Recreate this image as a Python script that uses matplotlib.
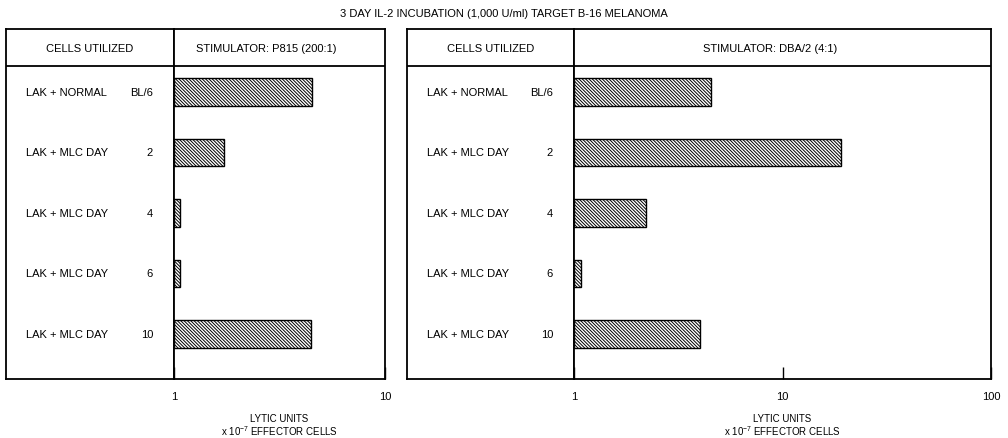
import numpy as np
import matplotlib.pyplot as plt
from matplotlib.ticker import FixedLocator, FixedFormatter, NullLocator

plt.rcParams['font.family'] = ['Liberation Sans', 'DejaVu Sans']
plt.rcParams['mathtext.fontset'] = 'custom'
plt.rcParams['mathtext.rm'] = 'Liberation Sans'
plt.rcParams['hatch.linewidth'] = 0.7

# cells used in each row
cell_names = ['LAK + NORMAL', 'LAK + MLC DAY', 'LAK + MLC DAY', 'LAK + MLC DAY', 'LAK + MLC DAY']
cell_tags = ['BL/6', '2', '4', '6', '10']

# lytic units x 10^-7 effector cells
p815_values = [4.5, 1.73, 1.07, 1.07, 4.46]
dba2_values = [4.56, 19.0, 2.22, 1.08, 4.03]

p815_title = 'STIMULATOR: P815 (200:1)'
dba2_title = 'STIMULATOR: DBA/2 (4:1)'
p815_ticks = [1, 10]
dba2_ticks = [1, 10, 100]

title = '3 DAY IL-2 INCUBATION (1,000 U/ml) TARGET B-16 MELANOMA'
xlabel = 'LYTIC UNITS\nx 10$^{\\mathrm{-7}}$ EFFECTOR CELLS'

W, H = 1008, 439
fig = plt.figure(figsize=(W / 100, H / 100), dpi=100)

y_top, y_bot = 30, 380
ylim = (4.744, -1.041)
header_y = -0.43
header_text_y = -0.735
lw = 1.3
fs = 8


def px_axes(x0, x1):
    return fig.add_axes([x0 / W, (H - y_bot) / H, (x1 - x0) / W, (y_bot - y_top) / H])


def panel(x0, xmid, x1, values, stim, ticks, ha_frac):
    lab = px_axes(x0, xmid)
    bar = px_axes(xmid, x1)
    rows = np.arange(len(values))

    # left column with cell names
    lab.set_xlim(0, 1)
    lab.set_ylim(*ylim)
    lab.set_xticks([])
    lab.set_yticks([])
    lab.axhline(header_y, color='black', lw=lw)
    lab.text(0.5, header_text_y, 'CELLS UTILIZED', ha='center', va='center', fontsize=fs)
    col_w = xmid - x0
    for r, name, tag in zip(rows, cell_names, cell_tags):
        lab.text(20 / col_w, r, name, ha='left', va='center', fontsize=fs)
        lab.text(1 - 21 / col_w, r, tag, ha='right', va='center', fontsize=fs)

    # bars on a log scale starting at 1
    bar.set_xscale('log')
    bar.set_xlim(ticks[0], ticks[-1])
    bar.set_ylim(*ylim)
    bar.barh(rows, np.array(values) - 1, left=1, height=0.45,
             color='white', edgecolor='black', linewidth=1, hatch='\\' * 10)
    bar.axhline(header_y, color='black', lw=lw)
    bar.text(ha_frac, header_text_y, stim, transform=bar.get_yaxis_transform(),
             ha='center', va='center', fontsize=fs)
    bar.set_yticks([])
    bar.xaxis.set_major_locator(FixedLocator(ticks))
    bar.xaxis.set_major_formatter(FixedFormatter([str(t) for t in ticks]))
    bar.xaxis.set_minor_locator(NullLocator())
    bar.tick_params(axis='x', direction='in', length=9, width=1.0, pad=9, labelsize=fs)
    bar.set_xlabel(xlabel, fontsize=7, labelpad=8, linespacing=1.05)

    for a in (lab, bar):
        for s in a.spines.values():
            s.set_linewidth(lw)


panel(6, 174, 385, p815_values, p815_title, p815_ticks, 0.436)
panel(407, 574, 991, dba2_values, dba2_title, dba2_ticks, 0.47)

fig.text(0.5, 1 - 14 / H, title, ha='center', va='center', fontsize=fs)

fig.savefig('out.png', dpi=100)
